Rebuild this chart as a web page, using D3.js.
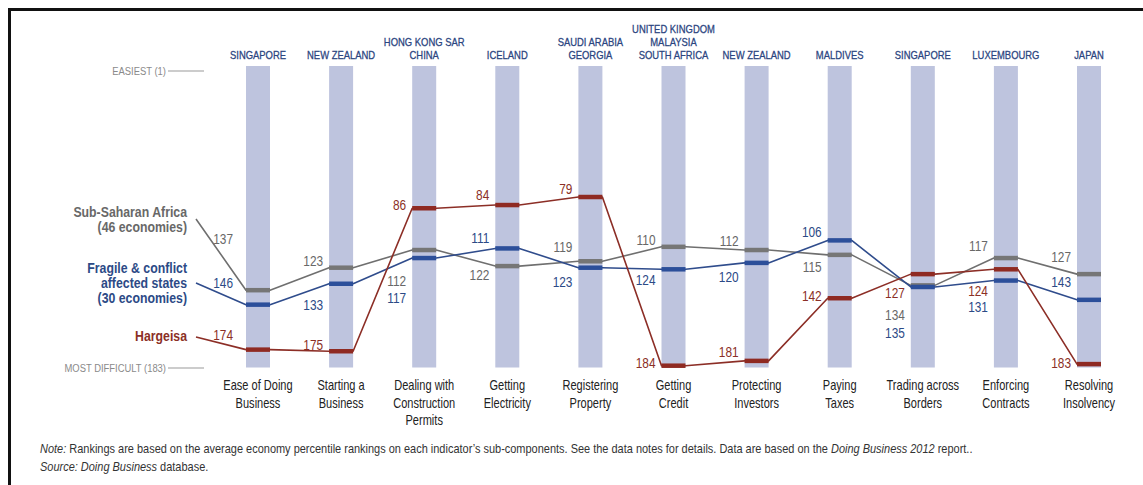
<!DOCTYPE html>
<html>
<head>
<meta charset="utf-8">
<script src="https://cdn.jsdelivr.net/npm/d3@7"></script>
<style>
  html, body { margin: 0; padding: 0; background: #fff; }
  svg { display: block; }
  text { font-family: "Liberation Sans", Arial, sans-serif; }
</style>
</head>
<body>
<svg id="chart" width="1143" height="485"></svg>
<script>
// Doing Business indicators (columns)
const categories = [
  ["Ease of Doing", "Business"],
  ["Starting a", "Business"],
  ["Dealing with", "Construction", "Permits"],
  ["Getting", "Electricity"],
  ["Registering", "Property"],
  ["Getting", "Credit"],
  ["Protecting", "Investors"],
  ["Paying", "Taxes"],
  ["Trading across", "Borders"],
  ["Enforcing", "Contracts"],
  ["Resolving", "Insolvency"]
];

// Top-ranked economy for each indicator
const leaders = [
  ["SINGAPORE"],
  ["NEW ZEALAND"],
  ["HONG KONG SAR", "CHINA"],
  ["ICELAND"],
  ["SAUDI ARABIA", "GEORGIA"],
  ["UNITED KINGDOM", "MALAYSIA", "SOUTH AFRICA"],
  ["NEW ZEALAND"],
  ["MALDIVES"],
  ["SINGAPORE"],
  ["LUXEMBOURG"],
  ["JAPAN"]
];

// Rankings (1 = easiest, 183 = most difficult)
const subSaharanAfrica = [137, 123, 112, 122, 119, 110, 112, 115, 134, 117, 127];
const fragileStates    = [146, 133, 117, 111, 123, 124, 120, 106, 135, 131, 143];
const hargeisa         = [174, 175, 86, 84, 79, 184, 181, 142, 127, 124, 183];

const seriesNames = [
  ["Sub-Saharan Africa", "(46 economies)"],
  ["Fragile & conflict", "affected states", "(30 economies)"],
  ["Hargeisa"]
];

// Vertical nudges for the value labels, relative to each marker
const labelDy = [
  [-51, -7, 31, 9, -15, -7, -9, 12, 29, -12, -17],
  [-22, 21, 40, -11, 14, 10, 14, -9, 46, 26, -18],
  [-15, -7, -4, -10, -8, -3, -9, -3, 19, 21, -1]
];

const W = 1143, H = 485;
const SX = 0.82;               // horizontal squeeze for a condensed look
const barTop = 66, barBottom = 367.5, barW = 24;

const svg = d3.select("#chart");
svg.append("rect").attr("width", W).attr("height", H).attr("fill", "#fff");

const idx = d3.range(categories.length);
const x = d3.scalePoint().domain(idx).range([258, 1089]);
const y = d3.scaleLinear().domain([1, 184]).range([71.7, 365.7]);

const palette = [
  { line: "#6f6f6f", mark: "#767676", text: "#686868" },
  { line: "#2f4c8c", mark: "#2c4f9a", text: "#2c4a86" },
  { line: "#8c2e26", mark: "#8f2a22", text: "#8b2f26" }
];

// condensed text helper
function ctext(parent, px, py, str, sx = SX) {
  return parent.append("text")
    .attr("transform", `translate(${px},${py}) scale(${sx},1)`)
    .text(str);
}

// frame
svg.append("path")
  .attr("d", `M9.5,${H} V9.5 H${W}`)
  .attr("fill", "none").attr("stroke", "#111").attr("stroke-width", 3);

// indicator bars
svg.append("g").selectAll("rect").data(idx).join("rect")
  .attr("x", i => x(i) - barW / 2)
  .attr("y", barTop)
  .attr("width", barW)
  .attr("height", barBottom - barTop)
  .attr("fill", "#bec4de");

// top economies
const leaderGroup = svg.append("g").attr("fill", "#2b4580").attr("stroke", "#2b4580")
  .attr("stroke-width", 0.3).attr("font-size", 11.8).attr("text-anchor", "middle");
leaders.forEach((lines, i) => {
  lines.forEach((t, k) => {
    ctext(leaderGroup, x(i), 59 - (lines.length - 1 - k) * 12.8, t, 0.8);
  });
});

// easiest / most difficult markers
const scaleEnds = [
  { label: "EASIEST (1)", yy: 71 },
  { label: "MOST DIFFICULT (183)", yy: 368 }
];
const ends = svg.append("g");
scaleEnds.forEach(e => {
  ctext(ends, 166, e.yy + 4, e.label)
    .attr("text-anchor", "end").attr("font-size", 11.5).attr("fill", "#8a8a8a");
  ends.append("line").attr("x1", 168).attr("x2", 204).attr("y1", e.yy).attr("y2", e.yy)
    .attr("stroke", "#9a9a9a").attr("stroke-width", 1.2);
});

// bottom category labels
const cat = svg.append("g").attr("fill", "#222").attr("font-size", 13.8).attr("text-anchor", "middle");
categories.forEach((lines, i) => {
  lines.forEach((t, k) => {
    ctext(cat, x(i), 390 + k * 17.5, t, 0.8);
  });
});

// series
const allSeries = [subSaharanAfrica, fragileStates, hargeisa];
const legendTop = [212, 268, 336];      // first text line centre
const legendStart = [219, 283, 337];    // where the leader line leaves the label

const line = d3.line();
allSeries.forEach((vals, s) => {
  const pts = [[196, legendStart[s]]];
  vals.forEach((v, i) => {
    pts.push([x(i) - barW / 2, y(v)]);
    pts.push([x(i) + barW / 2, y(v)]);
  });
  const g = svg.append("g");
  g.append("path").attr("d", line(pts)).attr("fill", "none")
    .attr("stroke", palette[s].line).attr("stroke-width", 1.6).attr("stroke-linejoin", "round");
  g.selectAll("line").data(vals).join("line")
    .attr("x1", (v, i) => x(i) - barW / 2)
    .attr("x2", (v, i) => x(i) + barW / 2)
    .attr("y1", v => y(v)).attr("y2", v => y(v))
    .attr("stroke", palette[s].mark).attr("stroke-width", 4.5);
  const lg = g.append("g").attr("text-anchor", "end").attr("font-size", 15).attr("fill", palette[s].text);
  vals.forEach((v, i) => {
    ctext(lg, x(i) - barW / 2 - (i === 0 ? 13 : 6), y(v) + labelDy[s][i] + 5.3, v, 0.79);
  });

  // series name
  const ng = svg.append("g").attr("text-anchor", "end").attr("font-size", 15)
    .attr("font-weight", "bold").attr("fill", palette[s].text);
  seriesNames[s].forEach((t, k) => {
    ctext(ng, 187, legendTop[s] + 5 + k * 15, t);
  });
});

// note and source
const note = svg.append("text").attr("transform", "translate(40,453) scale(0.845,1)")
  .attr("font-size", 13).attr("fill", "#333");
note.append("tspan").attr("font-style", "italic").text("Note:");
note.append("tspan").text(" Rankings are based on the average economy percentile rankings on each indicator\u2019s sub-components. See the data notes for details. Data are based on the ");
note.append("tspan").attr("font-style", "italic").text("Doing Business 2012");
note.append("tspan").text(" report..");

const src = svg.append("text").attr("transform", "translate(40,471) scale(0.845,1)")
  .attr("font-size", 13).attr("fill", "#333");
src.append("tspan").attr("font-style", "italic").text("Source: Doing Business");
src.append("tspan").text(" database.");
</script>
</body>
</html>
